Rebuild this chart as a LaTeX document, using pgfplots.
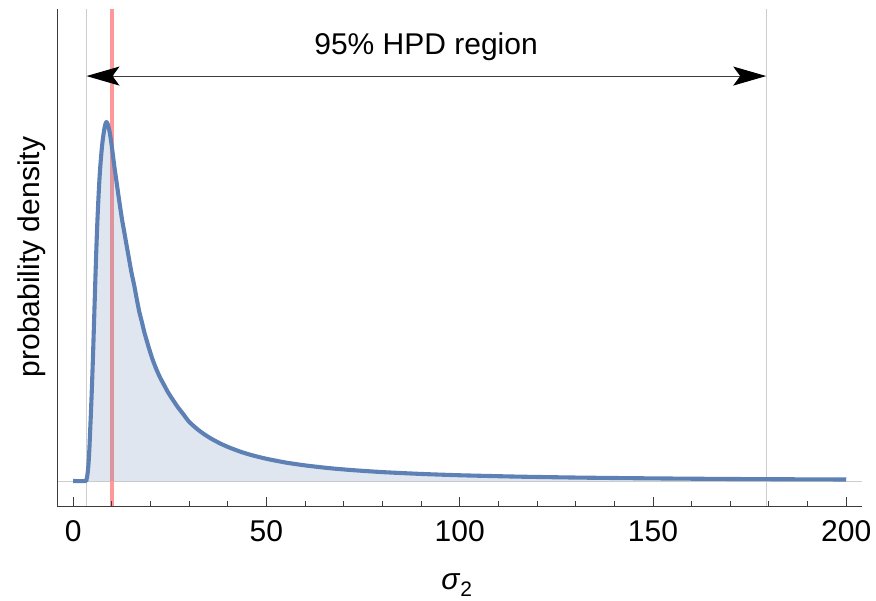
\documentclass[border=0pt]{standalone}
\usepackage{fontspec}
\setmainfont{Liberation Sans}
\usepackage{pgfplots}
\pgfplotsset{compat=1.18}
\usetikzlibrary{arrows.meta}
\definecolor{mblue}{RGB}{94,129,181}
\definecolor{mred}{RGB}{255,153,153}
\definecolor{mgrid}{RGB}{204,204,204}
\definecolor{maxis}{RGB}{60,60,60}
\newcommand{\bigfont}{\fontsize{30}{36}\selectfont}
\pgfplotstableread{
x y
0 0
3.2 0
3.5 0.006
3.7 0.018
3.85 0.032
4.0 0.052
4.2 0.09
4.4 0.14
4.6 0.19
4.8 0.245
5.0 0.305
5.2 0.37
5.4 0.44
5.6 0.51
5.8 0.58
6.0 0.645
6.2 0.705
6.4 0.755
6.6 0.8
6.8 0.84
7.0 0.873
7.2 0.9
7.4 0.925
7.6 0.945
7.8 0.962
8.0 0.976
8.2 0.988
8.4 0.996
8.6 1.0
8.8 0.998
9.0 0.992
9.4 0.975
9.8 0.948
10.2 0.915
10.7 0.873
11.2 0.835
11.7 0.797
12.2 0.76
12.7 0.725
13.3 0.689
13.9 0.652
14.5 0.616
15.1 0.58
15.8 0.545
16.4 0.51
17.1 0.472
17.8 0.442
18.4 0.415
19.5 0.374
20.5 0.340
21.5 0.312
22.5 0.288
23.5 0.268
24.5 0.248
25.5 0.231
27 0.207
28.5 0.186
30 0.165
32 0.1455
34 0.1295
36 0.1162
38 0.1048
40 0.095
43 0.0827
46 0.0726
50 0.0619
55 0.0514
60 0.0435
66 0.0361
72 0.0305
80 0.0248
90 0.0197
100 0.0160
115 0.0122
130 0.0096
145 0.0078
160 0.0064
175 0.0053
190 0.0046
200 0.0042
}\curvedata
\begin{document}
\begin{tikzpicture}
\path[use as bounding box] (0pt,0pt) rectangle (876pt,601pt);
\begin{axis}[
  at={(57.3pt,94.5pt)}, anchor=south west,
  scale only axis, width=804.4pt, height=497.2pt,
  xmin=-4.1, xmax=204, ymin=-0.071, ymax=1.314,
  axis x line=bottom, axis y line=left,
  axis line style={-, line width=0.9pt, maxis},
  xtick={0,50,...,200}, minor x tick num=4, ytick=\empty,
  tick align=inside, major tick length=9pt, minor tick length=5pt,
  every tick/.style={maxis, line width=0.9pt},
  ticklabel style={font=\bigfont},
  xticklabel style={anchor=north, inner sep=0pt, yshift=-14pt},
  /pgf/number format/assume math mode=true,
  axis on top=true,
  clip=false,
]
\draw[mgrid, line width=1pt] (axis cs:-4.1,0) -- (axis cs:204,0);
\draw[mgrid, line width=1pt] (axis cs:3.45,-0.071) -- (axis cs:3.45,1.314);
\draw[mgrid, line width=1pt] (axis cs:179.3,-0.071) -- (axis cs:179.3,1.314);
\addplot[mred, line width=4.5pt, forget plot] coordinates {(10,-0.071) (10,1.314)};
\addplot[draw=none, fill=mblue, fill opacity=0.2, smooth, tension=0.4, forget plot] table {\curvedata} \closedcycle;
\addplot[mblue, line width=4.1pt, line join=round, smooth, tension=0.4] table {\curvedata};
\draw[{Stealth[length=33pt,width=19pt,inset=7pt,color=black]}-{Stealth[length=33pt,width=19pt,inset=7pt,color=black]}, line width=1pt, maxis] (axis cs:3.45,1.128) -- (axis cs:179.3,1.128);
\node[anchor=base, font=\bigfont, inner sep=0pt] at (axis cs:91.3,1.189) {95\% HPD region};
\end{axis}
\node[rotate=90, anchor=base, inner sep=0pt, font=\bigfont] at (39pt,344pt) {probability density};
\node[anchor=base, inner sep=0pt, font=\bigfont] at (457pt,11pt) {\textit{σ}\textsubscript{2}};
\end{tikzpicture}
\end{document}
